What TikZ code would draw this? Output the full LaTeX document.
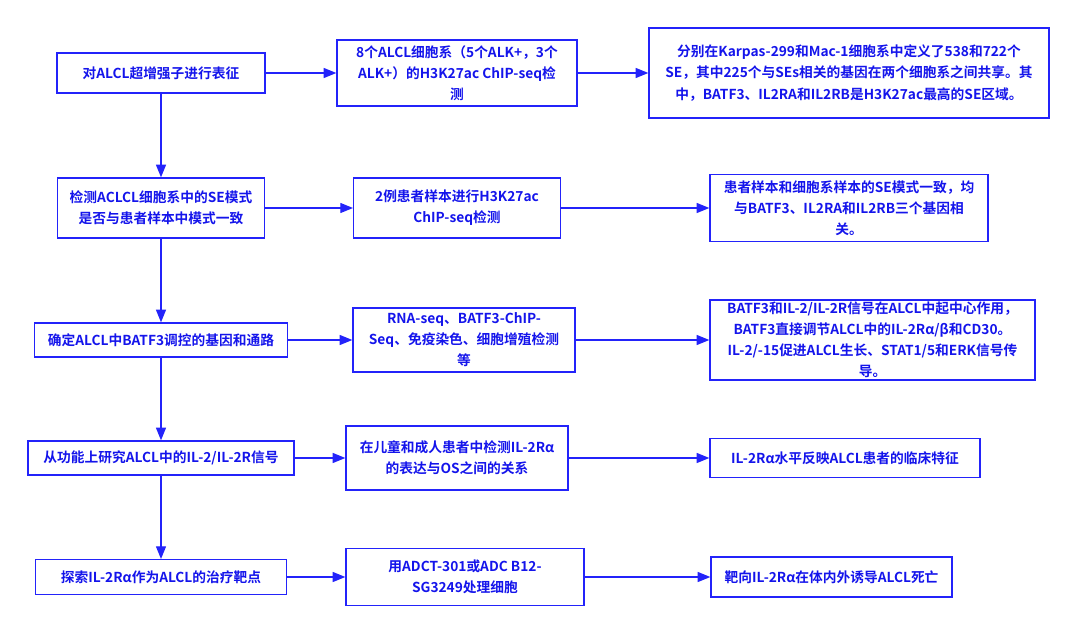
\documentclass[tikz,border=0pt]{standalone}
\usepackage{fontspec}
\setmainfont{Noto Sans CJK SC}[BoldFont={Noto Sans CJK SC Bold}]
\usepackage{xcolor}
\usetikzlibrary{arrows.meta,positioning}
\definecolor{flowblue}{RGB}{35,35,250}
\definecolor{textblue}{RGB}{20,20,235}

\begin{document}
\begin{tikzpicture}[x=0.75pt, y=-0.75pt,
    box/.style={draw=flowblue, line width=1pt, text=textblue, align=center, inner sep=0pt,
      font=\bfseries\fontsize{10.3}{15.8}\selectfont},
    link/.style={draw=flowblue, line width=0.9pt, -{Triangle[length=9.5pt,width=7.5pt]}}]
    \useasboundingbox (0,0) rectangle (1080,634);
    % Objectifs (colonne de gauche)
    \node[box, minimum width=156pt, minimum height=30pt] (aim1) at (161,73) {对ALCL超增强子进行表征};
    \node[box, minimum width=155pt, minimum height=45pt] (aim2) at (161,208) {检测ACLCL细胞系中的SE模式\\是否与患者样本中模式一致};
    \node[box, minimum width=190pt, minimum height=25.5pt] (aim3) at (161,340) {确定ALCL中BATF3调控的基因和通路};
    \node[box, minimum width=199.5pt, minimum height=25.5pt] (aim4) at (161,458) {从功能上研究ALCL中的IL-2/IL-2R信号};
    \node[box, minimum width=188pt, minimum height=26pt] (aim5) at (161,577) {探索IL-2Rα作为ALCL的治疗靶点};
    % Methodes (colonne du milieu)
    \node[box, minimum width=180pt, minimum height=49.5pt] (meth1) at (457,73) {8个ALCL细胞系（5个ALK+，3个\\ALK+）的H3K27ac ChIP-seq检\\测};
    \node[box, minimum width=155pt, minimum height=45pt] (meth2) at (457,208) {2例患者样本进行H3K27ac\\ChIP-seq检测};
    \node[box, minimum width=166.5pt, minimum height=48pt] (meth3) at (464,340) {RNA-seq、BATF3-ChIP-\\Seq、免疫染色、细胞增殖检测\\等};
    \node[box, minimum width=166.5pt, minimum height=48pt] (meth4) at (457,458) {在儿童和成人患者中检测IL-2Rα\\的表达与OS之间的关系};
    \node[box, minimum width=178.5pt, minimum height=42.75pt] (meth5) at (465,577) {用ADCT-301或ADC B12-\\SG3249处理细胞};
    % Resultats (colonne de droite)
    \node[box, minimum width=300pt, minimum height=67.5pt] (res1) at (849,73) {分别在Karpas-299和Mac-1细胞系中定义了538和722个\\SE，其中225个与SEs相关的基因在两个细胞系之间共享。其\\中，BATF3、IL2RA和IL2RB是H3K27ac最高的SE区域。};
    \node[box, minimum width=208.5pt, minimum height=50pt] (res2) at (849,208) {患者样本和细胞系样本的SE模式一致，均\\与BATF3、IL2RA和IL2RB三个基因相\\关。};
    \node[box, minimum width=243.75pt, minimum height=60pt] (res3) at (872.5,340) {BATF3和IL-2/IL-2R信号在ALCL中起中心作用，\\BATF3直接调节ALCL中的IL-2Rα/β和CD30。\\IL-2/-15促进ALCL生长、STAT1/5和ERK信号传\\导。};
    \node[box, minimum width=202.5pt, minimum height=29pt] (res4) at (845,458) {IL-2Rα水平反映ALCL患者的临床特征};
    \node[box, minimum width=180.75pt, minimum height=30pt] (res5) at (831.5,577) {靶向IL-2Rα在体内外诱导ALCL死亡};
    % Fleches
    \draw[link] (aim1) -- (aim2);
    \draw[link] (aim2) -- (aim3);
    \draw[link] (aim3) -- (aim4);
    \draw[link] (aim4) -- (aim5);
    \draw[link] (aim1) -- (meth1);
    \draw[link] (aim2) -- (meth2);
    \draw[link] (aim3) -- (meth3);
    \draw[link] (aim4) -- (meth4);
    \draw[link] (aim5) -- (meth5);
    \draw[link] (meth1) -- (res1);
    \draw[link] (meth2) -- (res2);
    \draw[link] (meth3) -- (res3);
    \draw[link] (meth4) -- (res4);
    \draw[link] (meth5) -- (res5);
\end{tikzpicture}
\end{document}
